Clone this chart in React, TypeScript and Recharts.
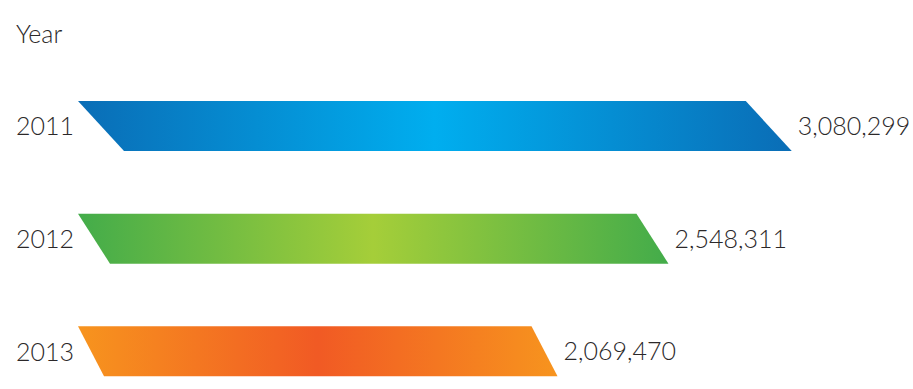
import React from "react";
import { BarChart, Bar, XAxis, YAxis, LabelList } from "recharts";

const years = ["2011", "2012", "2013"];
const totals = [3080299, 2548311, 2069470];
const axisTitle = "Year";

const data = years.map((year, i) => ({ year, total: totals[i] }));

// Horizontal gradient per bar: edge colour, centre colour.
const palettes = [
  { edge: "#0A6DB6", mid: "#00AEEF" },
  { edge: "#43AC4A", mid: "#A5CE39" },
  { edge: "#F7941E", mid: "#F15A24" },
];

// Horizontal offset of the slanted ends for each bar.
const slants = [46, 32, 26];

const TEXT_COLOR = "#2B2829";
const FONT = "Lato, 'Open Sans', sans-serif";
const FONT_SIZE = 25;
const FONT_WEIGHT = 300;

const SkewedBar = (props: any) => {
  const { x, y, width, height, index } = props;
  const s = slants[index] ?? 30;
  const p = palettes[index] ?? palettes[0];
  const id = `bar-grad-${index}`;
  const d = `M${x},${y} L${x + width - s},${y} L${x + width},${y + height} L${x + s},${y + height} Z`;
  return (
    <g>
      <defs>
        <linearGradient id={id} x1="0" y1="0" x2="1" y2="0">
          <stop offset="0%" stopColor={p.edge} />
          <stop offset="50%" stopColor={p.mid} />
          <stop offset="100%" stopColor={p.edge} />
        </linearGradient>
      </defs>
      <path d={d} fill={`url(#${id})`} />
    </g>
  );
};

const YearTick = (props: any) => {
  const { y, payload } = props;
  return (
    <text
      x={16}
      y={y}
      dy={9}
      textAnchor="start"
      fill={TEXT_COLOR}
      fontSize={FONT_SIZE}
      fontWeight={FONT_WEIGHT}
      fontFamily={FONT}
    >
      {payload.value}
    </text>
  );
};

export default function App() {
  return (
    <div style={{ position: "absolute", left: 0, top: 0, width: 913, height: 389, overflow: "hidden", background: "#fff" }}>
      <div
        style={{
          position: "absolute",
          left: 16,
          top: 18,
          fontFamily: FONT,
          fontSize: FONT_SIZE,
          fontWeight: FONT_WEIGHT,
          color: TEXT_COLOR,
          lineHeight: "30px",
        }}
      >
        {axisTitle}
      </div>
      <BarChart
        width={913}
        height={408}
        data={data}
        layout="vertical"
        margin={{ top: 70, right: 24, bottom: 0, left: 0 }}
      >
        <XAxis type="number" domain={[0, 3500000]} hide />
        <YAxis
          type="category"
          dataKey="year"
          width={78}
          axisLine={false}
          tickLine={false}
          tick={<YearTick />}
        />
        <Bar dataKey="total" barSize={50} shape={<SkewedBar />} isAnimationActive={false}>
          <LabelList
            dataKey="total"
            position="right"
            offset={6}
            formatter={(v: any) => Number(v).toLocaleString("en-US")}
            fill={TEXT_COLOR}
            fontSize={FONT_SIZE}
            fontWeight={FONT_WEIGHT}
            fontFamily={FONT}
          />
        </Bar>
      </BarChart>
    </div>
  );
}
